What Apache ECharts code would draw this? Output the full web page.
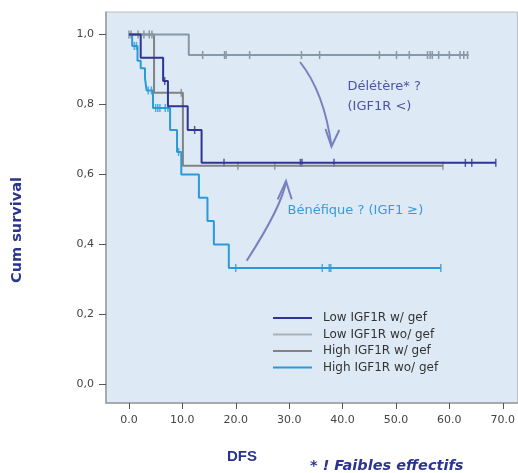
<!DOCTYPE html>
<html lang="fr">
<head>
<meta charset="utf-8"/>
<title>Cum survival - DFS</title>
<script src="https://cdn.jsdelivr.net/npm/echarts@6.0.0/dist/echarts.min.js"></script>
<style>
html,body{margin:0;padding:0;background:#fff;}
#chart{width:518px;height:473px;}
</style>
</head>
<body>
<div id="chart"></div>
<script>
var seriesNames = ['Low IGF1R w/ gef', 'Low IGF1R wo/ gef', 'High IGF1R w/ gef', 'High IGF1R wo/ gef'];
var xTicks = [0, 10, 20, 30, 40, 50, 60, 70];
var yTicks = [0, 0.2, 0.4, 0.6, 0.8, 1.0];

// Kaplan-Meier steps [time, survival] and censored times
var lowWSteps = [[0, 1], [2.2, 0.933], [6.4, 0.867], [7.3, 0.795], [11.0, 0.727], [13.6, 0.633], [68.7, 0.633]];
var lowWCens = [6.7, 12.3, 17.8, 32.1, 32.4, 38.4, 63.0, 64.2, 68.7];

var lowWoSteps = [[0, 1], [11.2, 0.941], [63.6, 0.941]];
var lowWoCens = [0.0, 0.4, 1.7, 2.8, 3.8, 4.3, 13.8, 17.9, 18.2, 22.6, 32.3, 35.7, 46.9, 50.1, 52.5,
                 55.9, 56.4, 56.8, 58.0, 60.0, 62.0, 62.7, 63.4];

var highWSteps = [[0, 1], [4.7, 0.833], [10.1, 0.625], [58.8, 0.625]];
var highWCens = [9.8, 20.4, 27.3, 58.8];

var highWoSteps = [[0, 1], [0.6, 0.967], [1.6, 0.925], [2.2, 0.903], [3.0, 0.875], [3.3, 0.84], [4.5, 0.79],
                   [7.7, 0.727], [9.0, 0.664], [9.8, 0.6], [13.1, 0.533], [14.7, 0.467], [15.9, 0.4],
                   [18.7, 0.333], [58.4, 0.333]];
var highWoCens = [1.0, 1.4, 3.6, 4.2, 5.0, 5.4, 5.8, 6.8, 7.3, 9.3, 20.0, 36.2, 37.5, 37.8, 58.4];

var colors = ['#2e3592', '#8898a6', '#808285', '#2b9bd8'];
var FONT = 'DejaVu Sans';
var NAVY = '#2b3590';

function survAt(steps, t) {
	var s = steps[0][1];
	for (var i = 0; i < steps.length; i++) {
		if (steps[i][0] <= t) s = steps[i][1];
	}
	return s;
}

function kmLine(name, steps, color) {
	return {
		name: name, type: 'line', step: 'end', data: steps,
		showSymbol: false, silent: true,
		lineStyle: { color: color, width: 2 },
		itemStyle: { color: color }
	};
}

function censors(name, steps, times, color) {
	return {
		name: name, type: 'scatter', symbol: 'rect', symbolSize: [1.5, 8], silent: true,
		data: times.map(function (t) { return [t, survAt(steps, t)]; }),
		itemStyle: { color: color }
	};
}

var myChart = echarts.init(document.getElementById('chart'));

myChart.setOption({
	animation: false,
	backgroundColor: '#fff',
	grid: {
		left: 106, right: 0, top: 12, bottom: 70,
		show: true, backgroundColor: '#dde9f5', borderColor: '#bdbdbd', borderWidth: 1
	},
	legend: {
		orient: 'vertical', left: 268, top: 307,
		itemWidth: 39, itemHeight: 2, itemGap: 4.5, icon: 'rect',
		textStyle: { fontFamily: FONT, fontSize: 12, color: '#333', padding: [0, 0, 0, 6] },
		data: [
			{ name: seriesNames[0] },
			{ name: seriesNames[1], itemStyle: { color: '#aab2ba' } },
			{ name: seriesNames[2] },
			{ name: seriesNames[3] }
		]
	},
	xAxis: {
		type: 'value', min: -4.3, max: 72.75,
		axisLine: { show: true, onZero: false, lineStyle: { color: '#9a9a9a', width: 1.5 } },
		axisTick: { show: true, customValues: xTicks, length: 6, lineStyle: { color: '#555' } },
		axisLabel: {
			customValues: xTicks, margin: 12, color: '#444', fontFamily: FONT, fontSize: 11,
			formatter: function (v) { return v.toFixed(1); }
		},
		splitLine: { show: false }
	},
	yAxis: {
		type: 'value', min: -0.053, max: 1.064,
		axisLine: { show: true, onZero: false, lineStyle: { color: '#9a9a9a', width: 1.5 } },
		axisTick: { show: true, customValues: yTicks, length: 7, lineStyle: { color: '#555' } },
		axisLabel: {
			customValues: yTicks, margin: 12, color: '#444', fontFamily: FONT, fontSize: 11,
			formatter: function (v) { return v.toFixed(1).replace('.', ','); }
		},
		splitLine: { show: false }
	},
	series: [
		kmLine(seriesNames[3], highWoSteps, colors[3]),
		censors(seriesNames[3], highWoSteps, highWoCens, colors[3]),
		kmLine(seriesNames[2], highWSteps, colors[2]),
		censors(seriesNames[2], highWSteps, highWCens, colors[2]),
		kmLine(seriesNames[1], lowWoSteps, colors[1]),
		censors(seriesNames[1], lowWoSteps, lowWoCens, '#77818a'),
		kmLine(seriesNames[0], lowWSteps, colors[0]),
		censors(seriesNames[0], lowWSteps, lowWCens, colors[0])
	],
	graphic: [
		{ type: 'text', x: 17.5, y: 230, rotation: Math.PI / 2,
		  style: { text: 'Cum survival', fontFamily: FONT, fontSize: 14.5, fontWeight: 'bold', fill: NAVY, align: 'center', verticalAlign: 'middle' } },
		{ type: 'text', x: 242, y: 457,
		  style: { text: 'DFS', fontFamily: 'Liberation Sans', fontSize: 15, fontWeight: 'bold', fill: NAVY, align: 'center', verticalAlign: 'middle' } },
		{ type: 'text', x: 310, y: 466,
		  style: { text: '* ! Faibles effectifs', fontFamily: FONT, fontSize: 14.5, fontWeight: 'bold', fontStyle: 'italic', fill: NAVY, align: 'left', verticalAlign: 'middle' } },
		{ type: 'text', x: 347.5, y: 87,
		  style: { text: 'Délétère* ?', fontFamily: FONT, fontSize: 13, fill: '#4b55a5', align: 'left', verticalAlign: 'middle' } },
		{ type: 'text', x: 347.5, y: 107,
		  style: { text: '(IGF1R <)', fontFamily: FONT, fontSize: 13, fill: '#4b55a5', align: 'left', verticalAlign: 'middle' } },
		{ type: 'text', x: 287.5, y: 211,
		  style: { text: 'Bénéfique ? (IGF1 ≥)', fontFamily: FONT, fontSize: 13, fill: '#3a9ad6', align: 'left', verticalAlign: 'middle' } },
		// arrows
		{ type: 'bezierCurve', shape: { x1: 300, y1: 62, cpx1: 324, cpy1: 92, x2: 331.5, y2: 146 },
		  style: { stroke: '#7880c0', lineWidth: 2, fill: null } },
		{ type: 'polyline', shape: { points: [[325.5, 129], [331.5, 146.5], [339.3, 130]] },
		  style: { stroke: '#7880c0', lineWidth: 2, fill: null } },
		{ type: 'bezierCurve', shape: { x1: 246.7, y1: 260.7, cpx1: 282, cpy1: 206, x2: 286, y2: 181.5 },
		  style: { stroke: '#7880c0', lineWidth: 2, fill: null } },
		{ type: 'polyline', shape: { points: [[277.7, 199.3], [286, 181], [291.7, 199.3]] },
		  style: { stroke: '#7880c0', lineWidth: 2, fill: null } }
	]
});
</script>
</body>
</html>
